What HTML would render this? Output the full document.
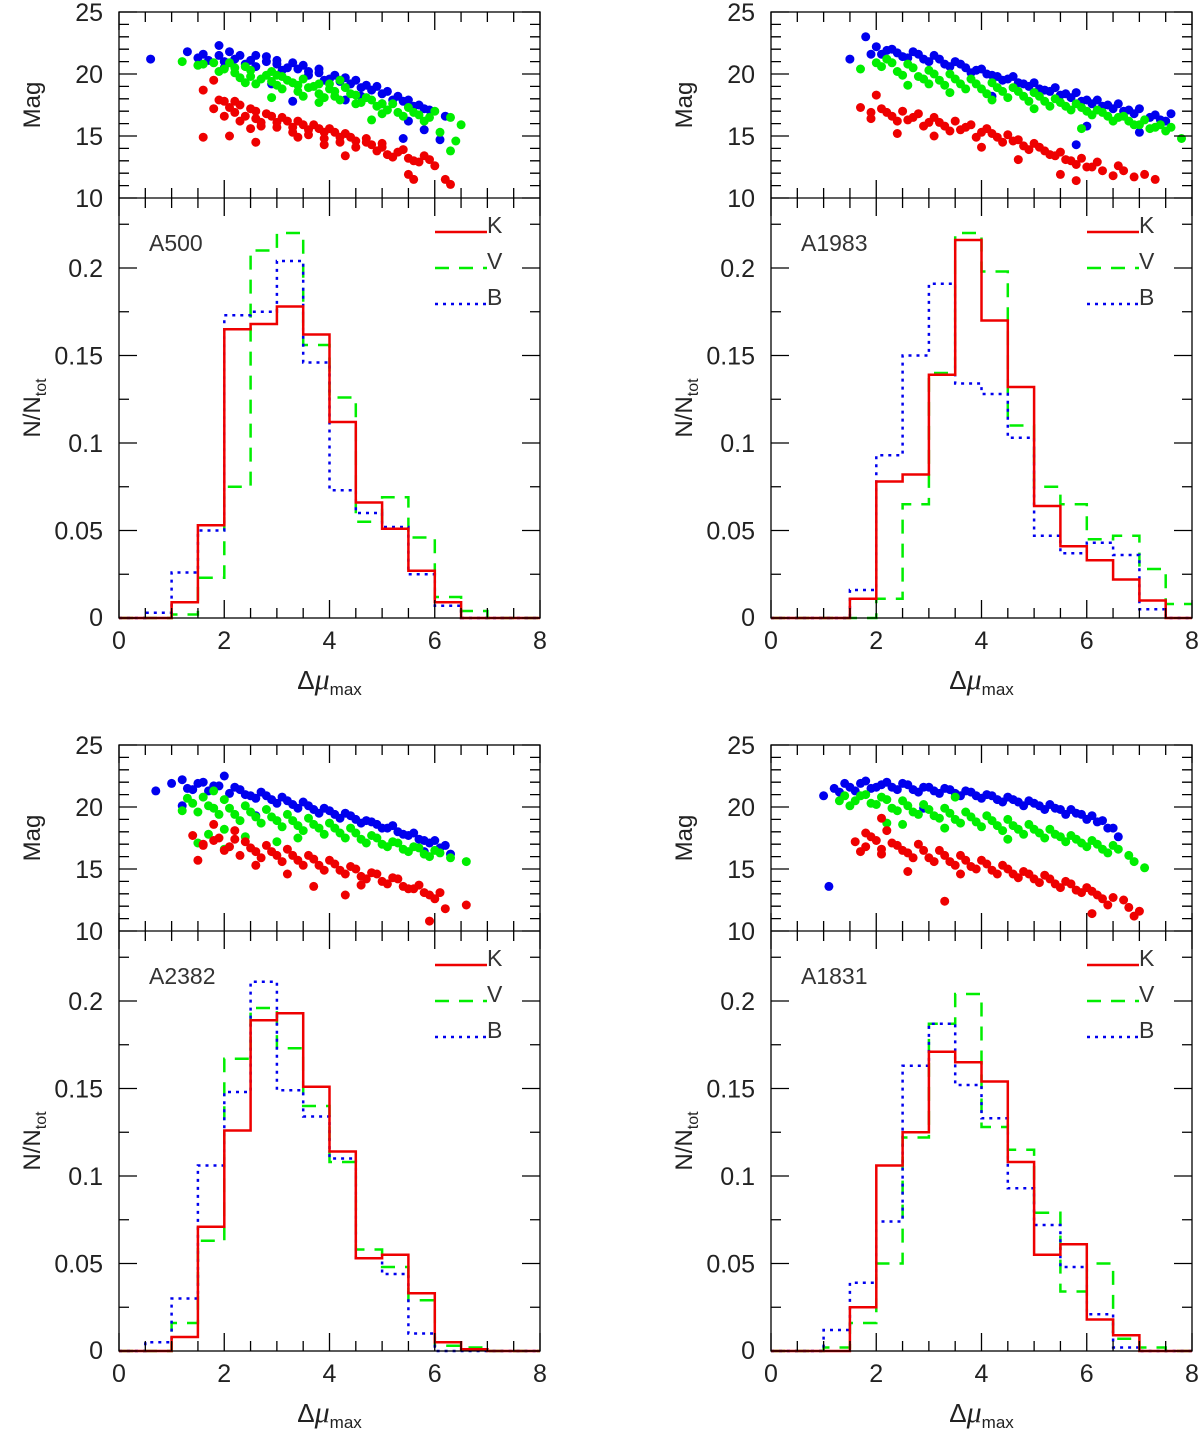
<!DOCTYPE html>
<html><head><meta charset="utf-8">
<style>
body{margin:0;background:#fff;}
svg{display:block;font-family:"Liberation Sans",sans-serif;}
</style></head>
<body>
<svg id="fig" width="1200" height="1433" viewBox="0 0 1200 1433" xmlns="http://www.w3.org/2000/svg"></svg>
<script>
// ---- histogram data (bins of 0.5 from 0 to 8) ----
const binEdges = [0,0.5,1,1.5,2,2.5,3,3.5,4,4.5,5,5.5,6,6.5,7,7.5,8];
const a500K = [0,0,0.009,0.053,0.165,0.168,0.178,0.162,0.112,0.066,0.051,0.027,0.009,0,0,0];
const a500V = [0,0,0.002,0.023,0.075,0.21,0.22,0.156,0.126,0.055,0.069,0.046,0.012,0.004,0,0];
const a500B = [0,0.003,0.026,0.05,0.173,0.175,0.204,0.146,0.073,0.06,0.052,0.025,0.007,0,0,0];
const a1983K = [0,0,0,0.011,0.078,0.082,0.139,0.216,0.17,0.132,0.064,0.041,0.033,0.022,0.01,0];
const a1983V = [0,0,0,0,0.011,0.065,0.14,0.22,0.198,0.11,0.075,0.065,0.045,0.047,0.028,0.008];
const a1983B = [0,0,0,0.016,0.093,0.15,0.191,0.134,0.128,0.103,0.047,0.037,0.043,0.036,0.005,0];
const a2382K = [0,0,0.008,0.071,0.126,0.189,0.193,0.151,0.114,0.053,0.055,0.033,0.005,0.001,0,0];
const a2382V = [0,0,0.016,0.063,0.167,0.196,0.173,0.14,0.108,0.058,0.048,0.029,0.003,0.002,0,0];
const a2382B = [0,0.005,0.03,0.106,0.148,0.211,0.149,0.134,0.11,0.053,0.044,0.01,0,0,0,0];
const a1831K = [0,0,0,0.025,0.106,0.125,0.171,0.165,0.154,0.108,0.055,0.061,0.018,0.009,0,0];
const a1831V = [0,0,0.002,0.016,0.05,0.122,0.187,0.204,0.128,0.115,0.079,0.034,0.05,0.007,0.002,0];
const a1831B = [0,0,0.012,0.039,0.074,0.163,0.187,0.152,0.133,0.093,0.072,0.048,0.021,0.002,0,0];

// ---- scatter data: flat [x, mag, x, mag, ...] ----
const a500Bpts = [0.6,21.2,1.3,21.8,1.5,21.3,1.6,21.6,1.9,22.3,2.1,21.8,2.2,21.2,2.4,20.8,2.6,21.5,2.8,21,3,20.8,3.2,20.5,3.4,20.4,3.6,19.9,3.8,20.1,4,19.6,4.2,19.4,4.4,19.2,4.6,18.9,4.8,18.7,5,18.4,5.2,17.9,5.4,17.8,5.6,17.4,5.8,17.2,2,20.5,2.9,19.2,4.3,17.9,5.5,16.2,5.4,14.8,5.8,15.5,6.2,16.6,6.1,14.7,3.3,17.8,
1.7,21.1,1.9,21.5,2.0,21.0,2.3,21.5,2.5,21.1,2.6,20.6,2.8,21.4,3.0,21.1,3.1,20.3,3.3,20.9,3.5,20.7,3.6,20.2,3.8,20.4,3.9,19.5,4.1,19.9,4.3,19.7,4.5,19.5,4.7,19.1,4.9,19.0,5.1,18.6,5.3,18.2,5.5,17.9,5.7,17.5,5.9,17.1,5.0,17.6,4.6,18.2];
const a500Vpts = [1.2,21,1.5,20.7,1.8,20.9,2,20.4,2.2,20.1,2.4,20.6,2.5,19.8,2.7,19.6,2.9,20.2,3,19.1,3.1,19.8,3.3,19.3,3.4,18.6,3.5,19.6,3.7,19,3.8,18.4,4,18.8,4.1,18.2,4.3,18.9,4.5,18.3,4.6,17.7,4.8,17.9,5,17.6,5.1,17.1,5.3,16.9,5.5,17.3,5.7,16.7,5.9,16.5,6.3,16.5,6.5,15.9,6.1,15.3,6.4,14.6,6.3,13.8,2.9,18.1,3.8,17.7,4.8,16.3,4.2,19.5,2.4,19.3,
1.6,20.8,1.9,20.2,2.1,20.9,2.3,19.7,2.5,20.3,2.6,19.2,2.8,19.9,2.9,19.4,3.1,18.8,3.2,19.5,3.4,19.1,3.5,18.2,3.6,18.9,3.8,19.2,3.9,18.1,4.1,18.6,4.2,17.9,4.4,18.4,4.5,17.6,4.7,18.1,4.9,17.4,5.0,16.8,5.2,17.6,5.4,16.6,5.6,16.9,5.8,16.2,6.0,17.0,2.2,20.5,3.0,19.9,4.0,19.2];
const a500Kpts = [1.6,18.7,1.8,19.5,1.8,17.2,1.9,17.9,2.1,17.3,2,16.6,2.2,17.8,2.3,16.2,2.5,17.2,2.6,16.4,2.7,15.8,2.8,16.8,3,16.1,3.1,16.5,3.3,15.7,3.4,16.2,3.6,15.5,3.7,15.9,3.9,15.3,4,15.6,4.2,14.9,4.3,15.2,4.5,14.6,4.7,14.8,4.8,14.3,5,14.1,5.1,13.5,5.3,13.7,5.5,13.2,5.7,12.9,5.9,13.1,6.2,11.5,6.3,11.1,5.5,11.9,5.6,11.5,4.3,13.4,3.9,14.3,2.6,14.5,1.6,14.9,2.1,15,
2.0,17.8,2.2,16.9,2.3,17.5,2.4,16.6,2.6,17.0,2.7,16.1,2.9,16.6,3.0,15.7,3.2,16.2,3.3,15.3,3.5,15.9,3.6,15.1,3.8,15.6,3.9,14.8,4.1,15.3,4.2,14.5,4.4,14.9,4.5,14.1,4.7,14.5,4.9,13.8,5.0,14.4,5.2,13.3,5.4,13.9,5.6,13.0,5.8,13.4,6.0,12.6,2.5,15.6,3.4,14.9];
const a1983Bpts = [1.5,21.2,1.8,23,2,22.2,2.1,21.6,2.3,22,2.5,21.4,2.7,21.8,2.9,21.2,3.1,21.5,3.3,20.8,3.5,21,3.7,20.5,3.9,20.3,4.1,20,4.3,19.8,4.5,19.6,4.7,19.3,4.9,19,5.1,18.8,5.3,18.6,5.5,18.3,5.7,18.1,5.9,17.8,6.1,17.6,6.3,17.4,6.5,17.2,6.7,17,6.9,16.8,7.2,16.5,7.4,16.3,6,15.8,7,15.3,5.8,14.3,7.6,16.8,4.2,18.2,
1.9,21.6,2.2,21.9,2.4,21.7,2.6,21.3,2.8,21.6,3.0,21.0,3.2,21.2,3.4,20.6,3.6,20.8,3.8,20.1,4.0,20.4,4.2,19.9,4.4,19.5,4.6,19.8,4.8,19.2,5.0,19.3,5.2,18.7,5.4,18.9,5.6,18.4,5.8,18.5,6.0,17.9,6.2,17.9,6.4,17.5,6.6,17.6,6.8,17.1,7.0,17.2,7.3,16.7,7.5,16.2];
const a1983Vpts = [1.7,20.4,2,20.9,2.2,21.2,2.4,20.2,2.6,20.8,2.8,19.8,3,20.3,3.2,19.5,3.4,20,3.6,19.2,3.8,19.6,4,18.8,4.2,19.3,4.4,18.6,4.6,18.9,4.8,18.2,5,18.5,5.2,17.8,5.4,18,5.6,17.4,5.8,17.6,6,17,6.2,17.1,6.4,16.6,6.6,16.5,6.8,16.2,7,15.9,7.2,15.6,7.4,15.9,7.6,15.7,7.8,14.8,5.9,15.6,5,17.2,3.4,18.5,2.6,19.1,
2.1,20.6,2.3,20.9,2.5,19.9,2.7,20.5,2.9,19.6,3.1,20.0,3.3,19.1,3.5,19.6,3.7,18.8,3.9,19.2,4.1,18.4,4.3,18.9,4.5,18.1,4.7,18.6,4.9,17.8,5.1,18.2,5.3,17.4,5.5,17.7,5.7,17.1,5.9,17.3,6.1,16.7,6.3,16.9,6.5,16.2,6.7,16.6,6.9,15.9,7.1,16.3,7.3,15.7,7.5,15.4,3.0,19.2,4.2,17.9];
const a1983Kpts = [1.7,17.3,1.9,16.9,2,18.3,2.1,17.2,2.3,16.6,2.5,17,2.6,16.3,2.8,16.8,3,16.1,3.1,16.5,3.3,15.8,3.5,16.2,3.6,15.5,3.8,15.9,4,15.3,4.1,15.6,4.3,14.9,4.5,15.1,4.6,14.6,4.8,14.2,5,14.4,5.2,13.8,5.4,13.4,5.6,13.1,5.8,12.7,6,12.5,6.2,12.9,6.5,11.8,6.7,12.2,7.1,11.9,7.3,11.5,5.5,11.9,5.8,11.4,4.7,13.1,2.4,15.2,
1.9,16.4,2.2,16.9,2.4,16.2,2.7,16.5,2.9,15.8,3.2,16.1,3.4,15.4,3.7,15.7,3.9,14.9,4.2,15.2,4.4,14.5,4.7,14.7,4.9,13.9,5.1,14.1,5.3,13.5,5.5,13.7,5.7,13.0,5.9,13.2,6.1,12.5,6.3,12.2,6.6,12.6,6.9,11.7,4.0,14.1,3.1,15.0];
const a2382Bpts = [0.7,21.3,1,21.9,1.2,22.2,1.4,21.4,1.6,22,1.8,21.7,2,22.5,2.1,21.1,2.3,21.4,2.5,20.9,2.7,21.2,2.9,20.6,3.1,20.8,3.3,20.2,3.5,20.4,3.7,19.8,3.9,19.9,4.1,19.4,4.3,19.5,4.5,19,4.7,18.9,4.9,18.6,5.1,18.3,5.3,18,5.5,17.7,5.7,17.4,5.9,17.1,6.1,16.7,6.3,16.2,1.2,20.1,2.6,19.3,5.8,16.4,
1.3,21.5,1.5,21.9,1.7,21.3,1.9,21.7,2.2,21.6,2.4,21.0,2.6,20.7,2.8,20.9,3.0,20.3,3.2,20.5,3.4,19.9,3.6,20.1,3.8,19.5,4.0,19.7,4.2,19.1,4.4,19.3,4.6,18.7,4.8,18.8,5.0,18.3,5.2,18.5,5.4,17.8,5.6,17.9,5.8,17.3,6.0,17.3,6.2,16.9];
const a2382Vpts = [1.2,19.7,1.4,20.3,1.6,20.8,1.8,19.9,2,20.6,2.2,19.4,2.4,20.1,2.6,19.2,2.8,19.8,3,18.9,3.2,19.4,3.4,18.5,3.6,19.1,3.8,18.3,4,18.7,4.2,17.9,4.4,18.3,4.6,17.4,4.8,17.7,5,17,5.2,17.2,5.4,16.6,5.6,16.8,5.8,16.2,6,16.5,6.3,15.9,6.6,15.6,1.5,17.1,2,16.6,3.4,17.5,1.8,21.3,
1.3,20.7,1.5,19.6,1.7,20.1,1.9,19.4,2.1,19.9,2.3,18.9,2.5,19.6,2.7,18.7,2.9,19.2,3.1,18.4,3.3,18.9,3.5,18.1,3.7,18.6,3.9,17.8,4.1,18.3,4.3,17.5,4.5,17.9,4.7,17.1,4.9,17.5,5.1,16.8,5.3,17.1,5.5,16.4,5.7,16.7,5.9,16.0,6.1,16.3,1.7,17.8,2.4,17.6,3.0,17.2,2.0,18.2];
const a2382Kpts = [1.4,17.7,1.6,16.9,1.8,18.6,1.9,17.5,2.1,16.8,2.2,18.1,2.4,17.2,2.6,16.4,2.8,16.9,3,16.1,3.2,16.6,3.4,15.7,3.6,16.1,3.8,15.3,4,15.7,4.2,14.9,4.4,15.2,4.6,14.4,4.8,14.7,5,14,5.2,14.3,5.4,13.6,5.6,13.4,5.8,13.1,6,12.6,6.2,11.8,6.6,12.1,5.9,10.8,4.3,12.9,3.7,13.6,1.5,15.7,
1.6,17.0,1.8,17.3,2.0,16.5,2.2,17.4,2.3,16.1,2.5,16.7,2.7,15.9,2.9,16.4,3.1,15.6,3.3,16.1,3.5,15.3,3.7,15.8,3.9,14.9,4.1,15.4,4.3,14.6,4.5,15.0,4.7,14.2,4.9,14.6,5.1,13.8,5.3,14.2,5.5,13.4,5.7,13.7,5.9,12.9,6.1,13.1,4.6,13.7,3.2,14.6,2.6,15.3];
const a1831Bpts = [1,20.9,1.2,21.5,1.4,21.9,1.6,21.3,1.8,22.1,2,21.6,2.2,22,2.4,21.4,2.6,21.8,2.8,21.2,3,21.6,3.2,21.1,3.4,21.4,3.6,20.9,3.8,21.2,4,20.7,4.2,20.9,4.4,20.4,4.6,20.6,4.8,20.1,5,20.3,5.2,19.8,5.4,19.9,5.6,19.4,5.8,19.5,6,19,6.2,18.8,6.4,18.3,6.6,17.6,1.1,13.6,2.9,19.9,
1.3,21.2,1.5,21.6,1.7,21.9,1.9,21.5,2.1,21.8,2.3,21.6,2.5,21.9,2.7,21.4,2.9,21.6,3.1,21.3,3.3,21.5,3.5,21.1,3.7,21.3,3.9,20.9,4.1,21.0,4.3,20.6,4.5,20.8,4.7,20.4,4.9,20.5,5.1,20.1,5.3,20.2,5.5,19.8,5.7,19.8,5.9,19.4,6.1,19.3,6.3,18.9,6.5,18.3];
const a1831Vpts = [1.3,20.5,1.5,20.1,1.7,20.9,1.9,20.3,2.1,20.8,2.3,19.9,2.5,20.5,2.7,19.6,2.9,20.2,3.1,19.3,3.3,19.9,3.5,19,3.7,19.6,3.9,18.8,4.1,19.3,4.3,18.5,4.5,19,4.7,18.2,4.9,18.6,5.1,17.9,5.3,18.2,5.5,17.6,5.7,17.7,5.9,17.1,6.1,17.3,6.3,16.6,6.5,16.9,6.8,16.1,7.1,15.1,2.2,18.7,3.5,20.8,
1.4,20.9,1.6,20.5,1.8,21.0,2.0,20.2,2.2,20.6,2.4,19.7,2.6,20.1,2.8,19.4,3.0,19.8,3.2,19.1,3.4,19.5,3.6,18.7,3.8,19.2,4.0,18.4,4.2,18.9,4.4,18.1,4.6,18.5,4.8,17.8,5.0,18.2,5.2,17.5,5.4,17.8,5.6,17.2,5.8,17.4,6.0,16.8,6.2,17.0,6.4,16.3,6.6,16.6,6.9,15.6,2.5,18.6,3.3,18.3,4.5,17.4];
const a1831Kpts = [1.6,17.2,1.7,16.4,1.8,17.9,2,17.3,2.1,16.6,2.2,18.1,2.4,16.9,2.6,16.3,2.8,17,3,15.9,3.2,16.5,3.4,15.6,3.6,16.1,3.8,15.2,4,15.7,4.2,14.9,4.4,15.3,4.6,14.6,4.8,14.8,5,14.2,5.2,14.5,5.4,13.8,5.6,14,5.8,13.3,6,13.5,6.2,12.9,6.4,12.1,6.7,12.5,7,11.6,6.9,11.2,6.1,11.4,3.3,12.4,2.1,19.1,
1.8,16.8,1.9,17.6,2.1,16.2,2.3,17.1,2.5,16.5,2.7,15.9,2.9,16.5,3.1,15.6,3.3,16.1,3.5,15.3,3.7,15.7,3.9,15.0,4.1,15.4,4.3,14.6,4.5,15.0,4.7,14.3,4.9,14.6,5.1,13.9,5.3,14.2,5.5,13.5,5.7,13.8,5.9,13.1,6.1,13.2,6.3,12.6,6.5,12.7,6.8,11.9,2.6,14.8,3.6,14.6];

const tickLabelsX = ["0","2","4","6","8"];
const tickLabelsMag = ["10","15","20","25"];
const tickLabelsHist = ["0","0.05","0.1","0.15","0.2"];

const panels = [
  {name:"A500", ox:0, oy:0, K:a500K, V:a500V, B:a500B, pk:a500Kpts, pv:a500Vpts, pb:a500Bpts},
  {name:"A1983", ox:652, oy:0, K:a1983K, V:a1983V, B:a1983B, pk:a1983Kpts, pv:a1983Vpts, pb:a1983Bpts},
  {name:"A2382", ox:0, oy:733, K:a2382K, V:a2382V, B:a2382B, pk:a2382Kpts, pv:a2382Vpts, pb:a2382Bpts},
  {name:"A1831", ox:652, oy:733, K:a1831K, V:a1831V, B:a1831B, pk:a1831Kpts, pv:a1831Vpts, pb:a1831Bpts}
];

const svg = document.getElementById('fig');
const NS = "http://www.w3.org/2000/svg";
function mk(tag, attrs, parent){
  const e = document.createElementNS(NS, tag);
  for (const k in attrs) e.setAttribute(k, attrs[k]);
  parent.appendChild(e);
  return e;
}
const L=119, R=540, T=12, MID=198, BOT=618;
const TXT='#222';

panels.forEach(p=>{
  const g = mk('g', {transform:`translate(${p.ox},${p.oy})`}, svg);
  
  
  const xs = v => L + v/8*(R-L);
  const ym = v => MID - (v-10)/15*(MID-T);
  const yh = v => BOT - v*1750;

  [[p.pb,'#0000ee','blue'],[p.pv,'#00ee00','green'],[p.pk,'#ee0000','red']].forEach(([arr,col,nm])=>{
    const sg = mk('g', {fill:col}, g);
    
    
    for (let i=0;i<arr.length;i+=2){
      const c = mk('circle', {cx:xs(arr[i]).toFixed(1), cy:ym(arr[i+1]).toFixed(1), r:4.5}, sg);
      
      
    }
  });

  const styles = [[p.V,'#00ee00','14,10','hist-v'],[p.B,'#0000ee','3,5','hist-b'],[p.K,'#ee0000','','hist-k']];
  styles.forEach(([vals,col,dash,nm])=>{
    let d = `M${xs(binEdges[0])},${yh(0)}`;
    vals.forEach((v,i)=>{ d += ` L${xs(binEdges[i]).toFixed(1)},${yh(v).toFixed(1)} L${xs(binEdges[i+1]).toFixed(1)},${yh(v).toFixed(1)}`; });
    const path = mk('path', {d:d, fill:'none', stroke:col, 'stroke-width':2.5, 'stroke-dasharray':dash}, g);
    
    
  });

  const fr = mk('rect', {x:L, y:T, width:R-L, height:BOT-T, fill:'none', stroke:'#000', 'stroke-width':1.3}, g);
  
  
  mk('line', {x1:L, x2:R, y1:MID, y2:MID, stroke:'#000', 'stroke-width':1.3}, g);

  let td = '';
  for (let v=0; v<=8.001; v+=0.5){
    const x = xs(v), len = (Math.abs(v-Math.round(v/2)*2)<1e-6)?18:10;
    td += `M${x},${T}v${len}M${x},${MID-len}v${2*len}M${x},${BOT}v${-len}`;
  }
  for (let m=10; m<=25; m++){
    const y = ym(m), len = (m%5===0)?18:10;
    td += `M${L},${y}h${len}M${R},${y}h${-len}`;
  }
  for (let h=0; h<=0.235; h+=0.025){
    const y = yh(h), len = (Math.round(h*1000)%50===0)?18:10;
    td += `M${L},${y}h${len}M${R},${y}h${-len}`;
  }
  mk('path', {d:td, stroke:'#000', 'stroke-width':1.3, fill:'none'}, g);

  tickLabelsX.forEach((t,i)=>{
    const tx = mk('text', {x:xs(i*2), y:BOT+31, 'font-size':25, 'text-anchor':'middle', fill:TXT}, g);
    tx.textContent = t;
    
    
  });
  tickLabelsMag.forEach((t,i)=>{
    const tx = mk('text', {x:L-16, y:ym(10+i*5)+9, 'font-size':25, 'text-anchor':'end', fill:TXT}, g);
    tx.textContent = t;
    
    
  });
  tickLabelsHist.forEach((t,i)=>{
    if (i===0) return;
    const tx = mk('text', {x:L-16, y:yh(i*0.05)+9, 'font-size':25, 'text-anchor':'end', fill:TXT}, g);
    tx.textContent = t;
    
    
  });
  const z = mk('text', {x:L-16, y:BOT+8, 'font-size':25, 'text-anchor':'end', fill:TXT}, g);
  z.textContent = '0';
  
  

  const mt = mk('text', {x:0, y:0, 'font-size':24, 'text-anchor':'middle', fill:TXT, transform:`translate(40,${(T+MID)/2}) rotate(-90)`}, g);
  mt.textContent = 'Mag';
  
  
  const nt = mk('text', {x:0, y:0, 'font-size':24, 'text-anchor':'middle', fill:TXT, transform:`translate(40,${(MID+BOT)/2}) rotate(-90)`}, g);
  nt.innerHTML = 'N/N<tspan font-size="16" dy="6">tot</tspan>';
  
  
  const xt = mk('text', {x:(L+R)/2, y:BOT+71, 'font-size':26, 'text-anchor':'middle', fill:TXT}, g);
  xt.innerHTML = 'Δ<tspan font-style="italic" font-family="Liberation Serif" font-size="30">μ</tspan><tspan font-size="17" dy="6">max</tspan>';
  
  

  const cl = mk('text', {x:149, y:251, 'font-size':23, fill:'#333'}, g);
  cl.textContent = p.name;
  
  

  [['K','#ee0000',''],['V','#00ee00','14,10'],['B','#0000ee','3,5']].forEach(([lab,col,dash],i)=>{
    const y = 232 + i*36;
    const ln = mk('line', {x1:435, x2:487, y1:y, y2:y, stroke:col, 'stroke-width':2.5, 'stroke-dasharray':dash}, g);
    
    
    const lt = mk('text', {x:487, y:y+1, 'font-size':23, fill:'#333'}, g);
    lt.textContent = lab;
    
    
  });
});
</script>
</body></html>
